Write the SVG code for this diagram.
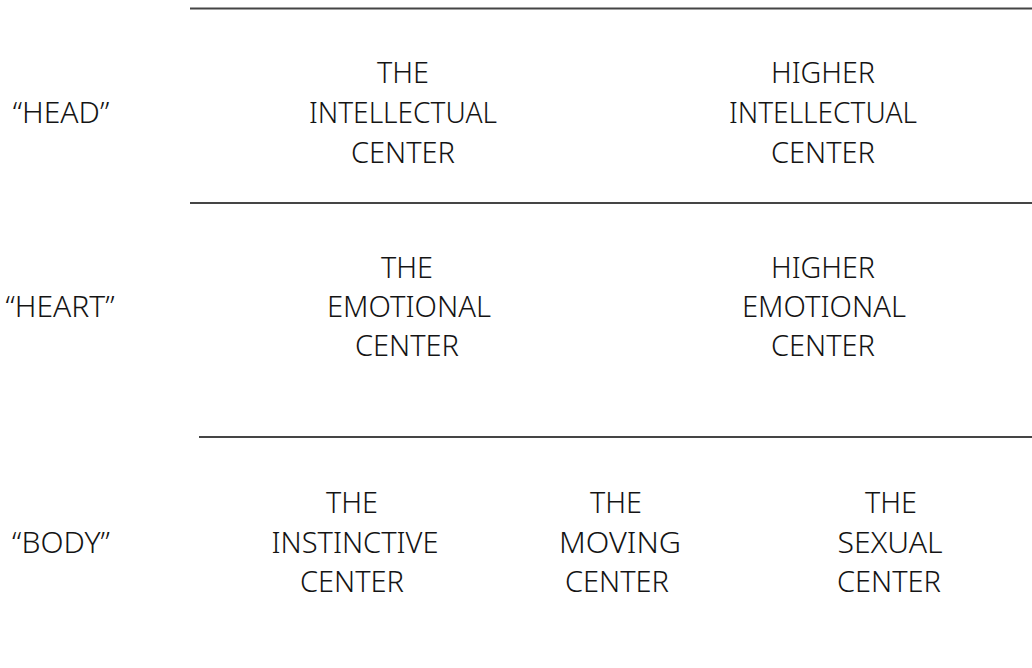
<svg xmlns="http://www.w3.org/2000/svg" width="1032" height="668" viewBox="0 0 1032 668">
  <style>
    .t { font-family: "Noto Sans", "Liberation Sans", sans-serif; font-weight: 300; font-size: 30px; fill: #141414; text-anchor: middle; }
    .rule { stroke: #454545; stroke-width: 2; fill: none; }
  </style>
  <rect width="1032" height="668" fill="#ffffff"/>

  <!-- horizontal rules separating the three levels -->
  <g id="connectors">
    <path class="rule" d="M190 8.5H1032"/>
    <path class="rule" d="M190 203H1032"/>
    <path class="rule" d="M199 437H1032"/>
  </g>

  <!-- row labels -->
  <g id="label-head"><text class="t" x="61" y="123">“HEAD”</text></g>
  <g id="label-heart"><text class="t" x="60" y="317">“HEART”</text></g>
  <g id="label-body"><text class="t" x="61" y="553">“BODY”</text></g>

  <!-- head row -->
  <g id="intellectual">
    <text class="t" x="403" y="83" textLength="52" lengthAdjust="spacingAndGlyphs">THE</text>
    <text class="t" x="403" y="123" textLength="188" lengthAdjust="spacingAndGlyphs">INTELLECTUAL</text>
    <text class="t" x="403" y="163" textLength="104" lengthAdjust="spacingAndGlyphs">CENTER</text>
  </g>
  <g id="higher-intellectual">
    <text class="t" x="823" y="83" textLength="104" lengthAdjust="spacingAndGlyphs">HIGHER</text>
    <text class="t" x="823" y="123" textLength="188" lengthAdjust="spacingAndGlyphs">INTELLECTUAL</text>
    <text class="t" x="823" y="163" textLength="104" lengthAdjust="spacingAndGlyphs">CENTER</text>
  </g>

  <!-- heart row -->
  <g id="emotional">
    <text class="t" x="407" y="278" textLength="52" lengthAdjust="spacingAndGlyphs">THE</text>
    <text class="t" x="409" y="317" textLength="164" lengthAdjust="spacingAndGlyphs">EMOTIONAL</text>
    <text class="t" x="407" y="356" textLength="104" lengthAdjust="spacingAndGlyphs">CENTER</text>
  </g>
  <g id="higher-emotional">
    <text class="t" x="823" y="278" textLength="104" lengthAdjust="spacingAndGlyphs">HIGHER</text>
    <text class="t" x="824" y="317" textLength="164" lengthAdjust="spacingAndGlyphs">EMOTIONAL</text>
    <text class="t" x="823" y="356" textLength="104" lengthAdjust="spacingAndGlyphs">CENTER</text>
  </g>

  <!-- body row -->
  <g id="instinctive">
    <text class="t" x="352" y="513" textLength="52" lengthAdjust="spacingAndGlyphs">THE</text>
    <text class="t" x="355" y="553" textLength="167" lengthAdjust="spacingAndGlyphs">INSTINCTIVE</text>
    <text class="t" x="352" y="592" textLength="104" lengthAdjust="spacingAndGlyphs">CENTER</text>
  </g>
  <g id="moving">
    <text class="t" x="616" y="513" textLength="52" lengthAdjust="spacingAndGlyphs">THE</text>
    <text class="t" x="620" y="553" textLength="122" lengthAdjust="spacingAndGlyphs">MOVING</text>
    <text class="t" x="617" y="592" textLength="104" lengthAdjust="spacingAndGlyphs">CENTER</text>
  </g>
  <g id="sexual">
    <text class="t" x="891" y="513" textLength="52" lengthAdjust="spacingAndGlyphs">THE</text>
    <text class="t" x="890" y="553" textLength="105" lengthAdjust="spacingAndGlyphs">SEXUAL</text>
    <text class="t" x="889" y="592" textLength="104" lengthAdjust="spacingAndGlyphs">CENTER</text>
  </g>
</svg>
